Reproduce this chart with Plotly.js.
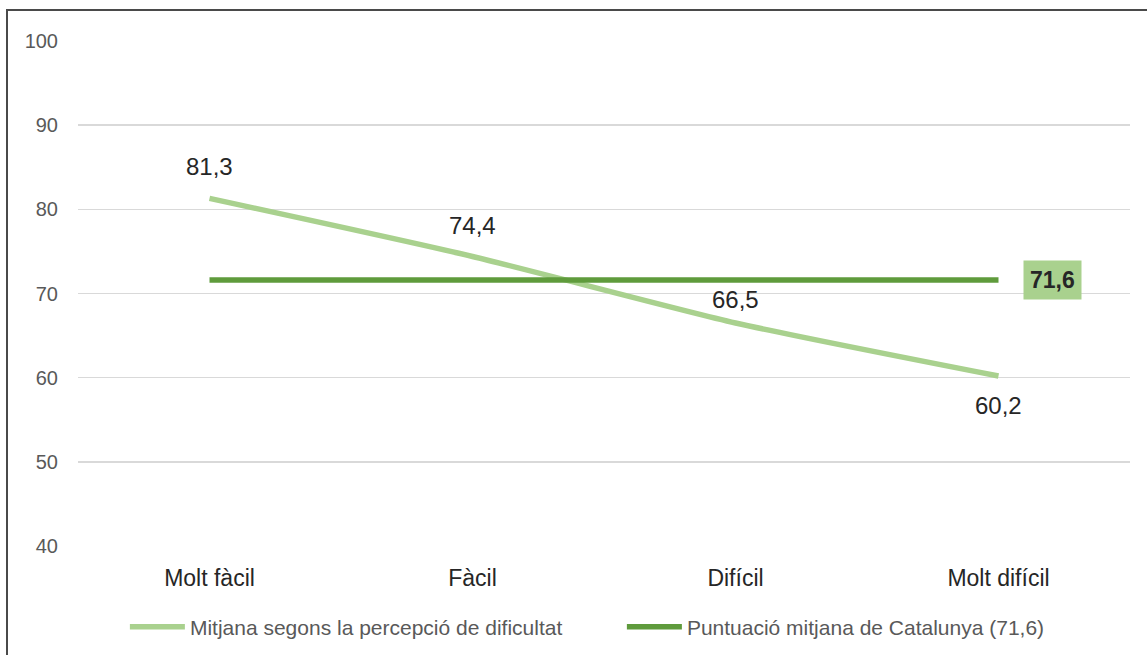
<!DOCTYPE html>
<html>
<head>
<meta charset="utf-8">
<script src="https://cdn.plot.ly/plotly-3.0.1.min.js"></script>
<style>
html,body{margin:0;padding:0;background:#fff;overflow:hidden;}
#frame{position:absolute;left:6px;top:9px;width:1300px;height:800px;border:2px solid #4a4a4a;box-sizing:border-box;pointer-events:none;z-index:5;}
#chart{position:absolute;left:0;top:0;width:1147px;height:655px;}
</style>
</head>
<body>
<div id="chart"></div>
<div id="frame"></div>
<script>
const categories = ['Molt fàcil', 'Fàcil', 'Difícil', 'Molt difícil'];
const perceptionValues = [81.3, 74.4, 66.5, 60.2];
const catalunyaAverage = 71.6;
const catalunyaValues = categories.map(() => catalunyaAverage);
const seriesNames = ['Mitjana segons la percepció de dificultat', 'Puntuació mitjana de Catalunya (71,6)'];
const yTicks = [40, 50, 60, 70, 80, 90, 100];

const FONT = 'Liberation Sans, Arial, sans-serif';
const fmt = v => v.toFixed(1).replace('.', ',');
const labelShift = [32, 31, 23, -30];

const traces = [
  {
    x: categories, y: perceptionValues, name: seriesNames[0], type: 'scatter', mode: 'lines',
    line: {color: '#A9D18E', width: 5.5, shape: 'spline', smoothing: 0.6},
    hoverinfo: 'skip'
  },
  {
    x: categories, y: catalunyaValues, name: seriesNames[1], type: 'scatter', mode: 'lines',
    line: {color: '#5F9B3C', width: 5.5},
    hoverinfo: 'skip'
  }
];

const annotations = perceptionValues.map((v, i) => ({
  x: categories[i], y: v, xref: 'x', yref: 'y', text: fmt(v), showarrow: false,
  yshift: labelShift[i], font: {family: FONT, size: 24, color: '#262626'}
}));
annotations.push({
  x: categories[categories.length - 1], y: catalunyaAverage, xref: 'x', yref: 'y',
  text: '<b>' + fmt(catalunyaAverage) + '</b>', showarrow: false, xanchor: 'left', xshift: 24,
  bgcolor: '#A9D18E', borderpad: 6,
  font: {family: FONT, size: 23, color: '#262626'}
});

const layout = {
  width: 1147, height: 655,
  margin: {l: 78, r: 17, t: 41, b: 109, autoexpand: false},
  paper_bgcolor: '#fff', plot_bgcolor: '#fff',
  showlegend: true,
  legend: {orientation: 'h', x: 0.517, xanchor: 'center', y: -0.12, yanchor: 'top',
    itemwidth: 55, entrywidth: 427, entrywidthmode: 'pixels',
    font: {family: FONT, size: 21, color: '#595959'}, traceorder: 'normal'},
  xaxis: {
    type: 'category', range: [-0.5, 3.5], showgrid: false, zeroline: false, showline: false,
    ticks: 'outside', ticklen: 11, tickcolor: 'rgba(0,0,0,0)',
    tickfont: {family: FONT, size: 23, color: '#262626'}
  },
  yaxis: {
    range: [40, 100], tickvals: yTicks, ticktext: yTicks.map(String),
    showgrid: true, gridcolor: '#D9D9D9', gridwidth: 1.5, zeroline: false, showline: false,
    ticks: 'outside', ticklen: 15, tickcolor: 'rgba(0,0,0,0)',
    tickfont: {family: FONT, size: 20, color: '#595959'}
  },
  annotations: annotations
};

Plotly.newPlot('chart', traces, layout, {displayModeBar: false, staticPlot: true});
</script>
</body>
</html>
